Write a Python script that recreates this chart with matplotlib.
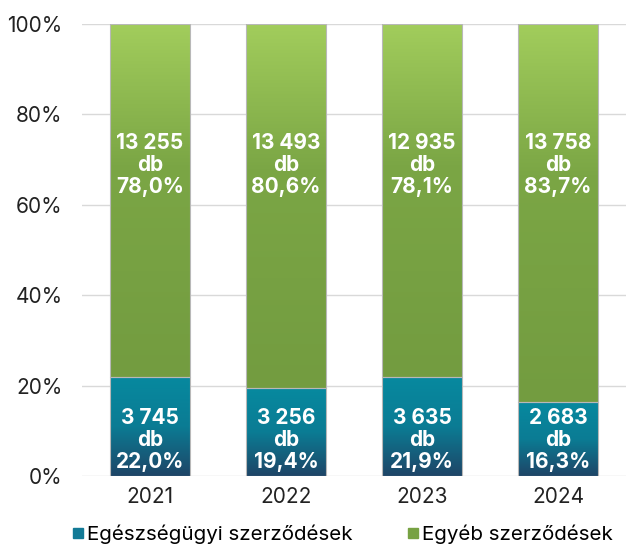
import numpy as np
import matplotlib.pyplot as plt
from matplotlib.colors import LinearSegmentedColormap
from matplotlib.lines import Line2D

years = ["2021", "2022", "2023", "2024"]
health_db = ["3 745", "3 256", "3 635", "2 683"]
health_pct = [22.0, 19.4, 21.9, 16.3]
other_db = ["13 255", "13 493", "12 935", "13 758"]
other_pct = [78.0, 80.6, 78.1, 83.7]

plt.rcParams['font.family'] = ['Inter', 'DejaVu Sans']

teal_cmap = LinearSegmentedColormap.from_list(
    "teal", [(0, "#1e4567"), (0.5, "#0b7c94"), (1, "#07899f")])
green_cmap = LinearSegmentedColormap.from_list(
    "green", [(0, "#739c40"), (0.6, "#7ba645"), (1, "#a2cd5c")])

fig = plt.figure(figsize=(6.26, 5.48), dpi=100)
ax = fig.add_axes([82 / 626, 72 / 548, 544 / 626, 452 / 548])

x = np.arange(len(years))
width = 0.586
grad = np.linspace(0, 1, 256).reshape(-1, 1)

# shares normalised to 100
total = np.array(health_pct) + np.array(other_pct)
h = np.array(health_pct) / total * 100
o = np.array(other_pct) / total * 100

bars_h = ax.bar(x, h, width, facecolor="none", edgecolor="#b8b8b8", linewidth=0.8, zorder=3)
bars_o = ax.bar(x, o, width, bottom=h, facecolor="none", edgecolor="#b8b8b8", linewidth=0.8, zorder=3)

for bars, cmap in [(bars_h, teal_cmap), (bars_o, green_cmap)]:
    for b in bars:
        x0, y0 = b.get_x(), b.get_y()
        im = ax.imshow(grad, extent=[x0, x0 + b.get_width(), y0, y0 + b.get_height()],
                       origin="lower", aspect="auto", cmap=cmap, zorder=2)
        im.set_clip_path(b)

for i in range(len(years)):
    ax.text(x[i], 8, f"{health_db[i]}\ndb\n{health_pct[i]:.1f}%".replace(".", ","),
            ha="center", va="center", color="white", fontsize=15, fontweight="bold",
            linespacing=1.12, zorder=4)
    ax.text(x[i], 68.8, f"{other_db[i]}\ndb\n{other_pct[i]:.1f}%".replace(".", ","),
            ha="center", va="center", color="white", fontsize=15, fontweight="bold",
            linespacing=1.12, zorder=4)

ax.set_xlim(-0.5, 3.5)
ax.set_ylim(0, 100)
ax.set_yticks(range(0, 101, 20))
ax.set_yticklabels([f"{v}%" for v in range(0, 101, 20)])
ax.set_xticks(x)
ax.set_xticklabels(years)
ax.tick_params(axis="both", length=0, labelsize=15, colors="#222222")
ax.tick_params(axis="y", pad=14)
ax.tick_params(axis="x", pad=8)
ax.grid(axis="y", color="#d9d9d9", linewidth=1, zorder=0)
ax.set_axisbelow(True)
for s in ax.spines.values():
    s.set_visible(False)

handles = [Line2D([], [], marker="s", linestyle="none", markersize=7,
                  markerfacecolor="#127a96", markeredgecolor="#127a96"),
           Line2D([], [], marker="s", linestyle="none", markersize=7,
                  markerfacecolor="#77a243", markeredgecolor="#77a243")]
fig.legend(handles, ["Egészségügyi szerződések", "Egyéb szerződések"],
           loc="center", bbox_to_anchor=(0.546, 14 / 548), ncol=2, frameon=False,
           fontsize=14.8, handletextpad=0.1, columnspacing=2.6, handlelength=0.7)

fig.savefig("out.png", dpi=100)
